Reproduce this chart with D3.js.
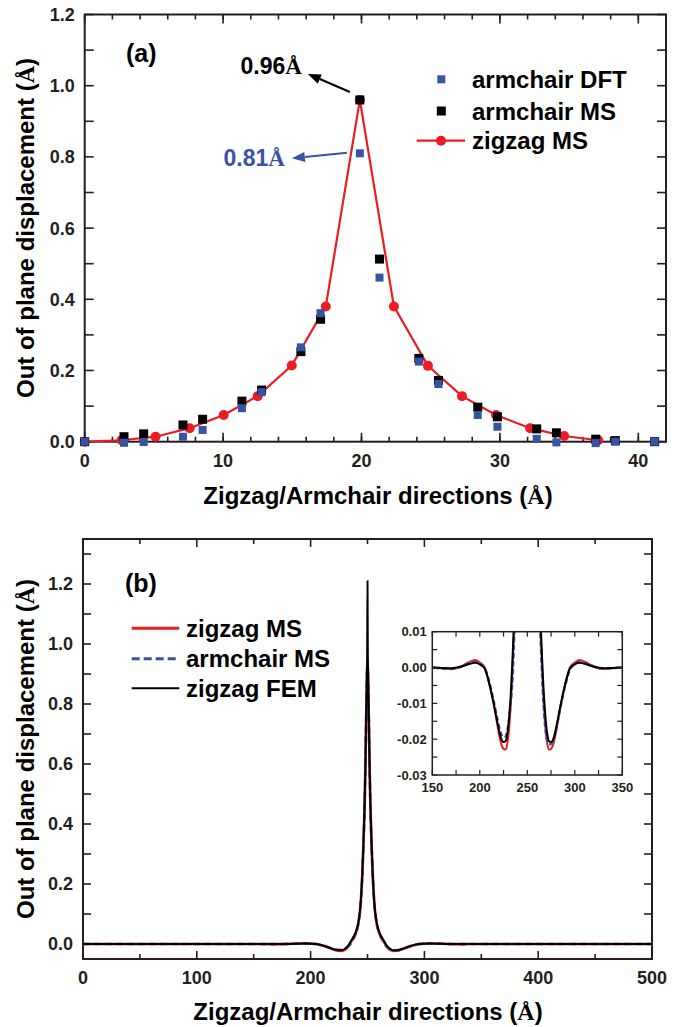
<!DOCTYPE html>
<html>
<head>
<meta charset="utf-8">
<script src="https://cdn.jsdelivr.net/npm/d3@7"></script>
<style>
  body { margin: 0; background: #fff; }
  svg { display: block; font-family: "Liberation Sans", Arial, Helvetica, sans-serif; font-weight: bold; }
</style>
</head>
<body>
<svg id="fig" width="680" height="1027"></svg>
<script>
// ---------- Panel (a): discrete displacement profiles ----------
const aArmX   = [0, 2.84, 4.26, 7.1, 8.52, 11.36, 12.78, 15.62, 17.04, 19.88, 21.3, 24.14, 25.56, 28.4, 29.82, 32.66, 34.08, 36.92, 38.34, 41.18];
const aArmMS  = [0, 0.014, 0.022, 0.047, 0.063, 0.114, 0.145, 0.253, 0.344, 0.96, 0.513, 0.234, 0.172, 0.097, 0.070, 0.036, 0.025, 0.007, 0.003, 0];
const aArmDFT = [0, -0.003, -0.001, 0.014, 0.033, 0.094, 0.139, 0.265, 0.361, 0.81, 0.461, 0.225, 0.162, 0.075, 0.042, 0.008, -0.002, -0.004, 0, 0];
const aZigX   = [0, 2.66, 5.12, 7.58, 10.04, 12.5, 14.96, 17.42, 19.88, 22.34, 24.8, 27.26, 29.72, 32.18, 34.64, 37.1];
const aZigMS  = [0, 0.004, 0.014, 0.038, 0.075, 0.128, 0.214, 0.38, 0.96, 0.38, 0.213, 0.128, 0.075, 0.038, 0.016, 0.004];
const aPeakMS = 0.96, aPeakDFT = 0.81, aPeakX = 19.88;

const aXTicks = [0, 10, 20, 30, 40];
const aYTicks = [0.0, 0.2, 0.4, 0.6, 0.8, 1.0, 1.2];

// ---------- Panel (b): continuous profiles ----------
const bX = [0, 50, 100, 150, 160, 170, 180, 188, 195, 200, 205, 210, 215, 219, 222, 225, 227, 229, 231, 233,
  234.5, 236, 238, 240, 242, 244, 245.5, 246.5, 247.5, 248.2, 248.8, 249.4, 249.75, 250,
  250.25, 250.6, 251.2, 251.8, 252.5, 253.5, 254.5, 256, 258, 260, 262, 264, 265.5, 267, 269, 271, 273, 275,
  278, 281, 285, 290, 295, 300, 305, 312, 320, 330, 340, 350, 400, 450, 500];
const bZigMS = [0, 0, 0, 0, -0.0002, -0.0004, 0.0003, 0.0014, 0.0021, 0.0014, 0.0001, -0.0045, -0.0108, -0.0168,
  -0.0208, -0.0227, -0.0229, -0.0212, -0.0165, -0.0085, 0.0, 0.010, 0.022, 0.040, 0.070, 0.135,
  0.24, 0.34, 0.47, 0.60, 0.75, 0.87, 0.92, 0.937,
  0.92, 0.87, 0.75, 0.60, 0.47, 0.34, 0.24, 0.135, 0.070, 0.040, 0.022, 0.010,
  0.0, -0.0085, -0.0165, -0.0212, -0.0229, -0.0227, -0.0208, -0.0168, -0.0108, -0.0045, 0.0001, 0.0014,
  0.0021, 0.0014, 0.0003, -0.0004, -0.0002, 0, 0, 0, 0];
const bArmMS = [0, 0, 0, 0, -0.0003, -0.0004, 0.0002, 0.0012, 0.0016, 0.0012, 0.0, -0.0040, -0.0098, -0.0150,
  -0.0182, -0.0195, -0.0193, -0.0175, -0.0140, -0.0085, -0.003, 0.007, 0.020, 0.038, 0.068, 0.132,
  0.235, 0.335, 0.465, 0.60, 0.75, 0.87, 0.92, 0.935,
  0.92, 0.87, 0.75, 0.60, 0.47, 0.34, 0.24, 0.135, 0.070, 0.040, 0.021, 0.008,
  -0.002, -0.010, -0.0170, -0.0205, -0.0215, -0.0213, -0.0198, -0.0165, -0.0110, -0.0050, -0.0005, 0.0010,
  0.0016, 0.0012, 0.0003, -0.0003, -0.0002, 0, 0, 0, 0];
const bZigFEM = [0, 0, 0, 0, -0.0001, -0.0002, 0.0002, 0.0009, 0.0013, 0.0009, -0.0002, -0.0045, -0.0105, -0.0160,
  -0.0195, -0.0208, -0.0206, -0.0185, -0.0135, -0.0055, 0.003, 0.013, 0.026, 0.043, 0.073, 0.137,
  0.24, 0.34, 0.47, 0.60, 0.75, 0.89, 0.99, 1.21,
  0.99, 0.89, 0.75, 0.60, 0.47, 0.34, 0.24, 0.137, 0.073, 0.043, 0.026, 0.013,
  0.003, -0.0055, -0.0135, -0.0185, -0.0206, -0.0208, -0.0195, -0.0160, -0.0105, -0.0045, -0.0002, 0.0009,
  0.0013, 0.0009, 0.0002, -0.0002, -0.0001, 0, 0, 0, 0];

const bXTicks = [0, 100, 200, 300, 400, 500];
const bYTicks = [0.0, 0.2, 0.4, 0.6, 0.8, 1.0, 1.2];
const insXTicks = [150, 200, 250, 300, 350];
const insYTicks = [-0.03, -0.02, -0.01, 0.00, 0.01];
const insYLabels = ["-0.03", "-0.02", "-0.01", "0.00", "0.01"];

const xTitle = "Zigzag/Armchair directions (";
const yTitle = "Out of plane displacement (";

// ---------- styling ----------
const RED = "#ec1c24", BLUE = "#3953a4", BLK = "#000", AX = "#231f20";
const svg = d3.select("#fig");

function box(g, x, y, o) {
  const [x0, x1] = x.range(), [y0, y1] = y.range();
  const line = (a, b, c, d, w) => g.append("line").attr("x1", a).attr("y1", b).attr("x2", c).attr("y2", d)
    .attr("stroke", AX).attr("stroke-width", w);
  o.xMinor.forEach(v => { const p = x(v); line(p, y0, p, y0 - o.xMinLen, o.tw); line(p, y1, p, y1 + o.xMinLen, o.tw); });
  o.xMajor.forEach(v => { const p = x(v); line(p, y0, p, y0 - o.xMajLen, o.tw); line(p, y1, p, y1 + o.xMajLen, o.tw); });
  o.yMinor.forEach(v => { const p = y(v); line(x0, p, x0 + o.yMinLen, p, o.tw); line(x1, p, x1 - o.yMinLen, p, o.tw); });
  o.yMajor.forEach(v => { const p = y(v); line(x0, p, x0 + o.yMajLen, p, o.tw); line(x1, p, x1 - o.yMajLen, p, o.tw); });
  g.append("rect").attr("x", x0).attr("y", y1).attr("width", x1 - x0).attr("height", y0 - y1)
    .attr("fill", "none").attr("stroke", AX).attr("stroke-width", o.bw);
  o.xMajor.forEach((v, i) => g.append("text").attr("x", x(v)).attr("y", y0 + o.xLabDy)
    .attr("text-anchor", "middle").attr("font-size", o.fs).attr("fill", "#231f20")
    .text(o.xLabels ? o.xLabels[i] : String(v)));
  o.yMajor.forEach((v, i) => g.append("text").attr("x", x0 - o.yLabDx).attr("y", y(v) + o.fs * 0.36)
    .attr("text-anchor", "end").attr("font-size", o.fs).attr("fill", "#231f20")
    .text(o.yLabels ? o.yLabels[i] : d3.format(".1f")(v)));
}

function titles(g, cx, by, ty, cy) {
  const t = g.append("text").attr("x", cx).attr("y", by).attr("text-anchor", "middle").attr("font-size", 24);
  t.append("tspan").text(xTitle);
  t.append("tspan").attr("font-family", "Liberation Serif, Times New Roman, serif").text("Å");
  t.append("tspan").text(")");
  const r = g.append("text").attr("transform", `translate(${ty},${cy}) rotate(-90)`)
    .attr("text-anchor", "middle").attr("font-size", 24);
  r.append("tspan").text(yTitle);
  r.append("tspan").attr("font-family", "Liberation Serif, Times New Roman, serif").text("Å");
  r.append("tspan").text(")");
}

function arrow(g, x1, y1, x2, y2, color) {
  const ang = Math.atan2(y2 - y1, x2 - x1), L = 13, W = 5;
  const bx = x2 - L * Math.cos(ang), by = y2 - L * Math.sin(ang);
  g.append("line").attr("x1", x1).attr("y1", y1).attr("x2", bx).attr("y2", by)
    .attr("stroke", color).attr("stroke-width", 2.2);
  const nx = -Math.sin(ang) * W, ny = Math.cos(ang) * W;
  g.append("path").attr("d", `M${x2},${y2}L${bx + nx},${by + ny}L${bx - nx},${by - ny}Z`).attr("fill", color);
}

// ================= Panel (a) =================
const ga = svg.append("g");
const xa = d3.scaleLinear().domain([0, 42]).range([84.7, 666]);
const ya = d3.scaleLinear().domain([0, 1.2]).range([441.7, 14.5]);

box(ga, xa, ya, {
  xMajor: aXTicks, xMinor: d3.range(0, 42, 2), yMajor: aYTicks, yMinor: d3.range(0.1, 1.2, 0.2),
  xMajLen: 9, xMinLen: 5, yMajLen: 9, yMinLen: 9, tw: 1.6, bw: 2, fs: 18, xLabDy: 25, yLabDx: 10
});
titles(ga, 378, 504, 34, 228);

// zigzag MS line with circles
const zig = aZigX.map((v, i) => [v, aZigMS[i]]);
ga.append("path").datum(zig).attr("fill", "none").attr("stroke", RED).attr("stroke-width", 2.2)
  .attr("d", d3.line().x(d => xa(d[0])).y(d => ya(d[1])));
ga.selectAll(".zc").data(zig).enter().append("circle")
  .attr("cx", d => xa(d[0])).attr("cy", d => ya(d[1])).attr("r", 5).attr("fill", RED);
// armchair MS squares
ga.selectAll(".ms").data(aArmX.map((v, i) => [v, aArmMS[i]])).enter().append("rect")
  .attr("x", d => xa(d[0]) - 4.5).attr("y", d => ya(d[1]) - 4.5).attr("width", 9).attr("height", 9).attr("fill", BLK);
// armchair DFT squares
ga.selectAll(".dft").data(aArmX.map((v, i) => [v, aArmDFT[i]])).enter().append("rect")
  .attr("x", d => xa(d[0]) - 4).attr("y", d => ya(d[1]) - 4).attr("width", 8).attr("height", 8).attr("fill", BLUE);

// peak annotations
const px = xa(aPeakX), pyMS = ya(aPeakMS), pyDFT = ya(aPeakDFT);
arrow(ga, px - 10, pyMS - 8, px - 52, pyMS - 26, BLK);
const t96 = ga.append("text").attr("x", px - 58).attr("y", pyMS - 26).attr("text-anchor", "end").attr("font-size", 23).attr("fill", BLK);
t96.append("tspan").text(aPeakMS.toFixed(2));
t96.append("tspan").attr("font-family", "Liberation Serif, Times New Roman, serif").text("Å");
arrow(ga, px - 13, pyDFT - 0.6, px - 68, pyDFT + 5, BLUE);
const t81 = ga.append("text").attr("x", px - 75).attr("y", pyDFT + 13).attr("text-anchor", "end").attr("font-size", 23).attr("fill", BLUE);
t81.append("tspan").text(aPeakDFT.toFixed(2));
t81.append("tspan").attr("font-family", "Liberation Serif, Times New Roman, serif").text("Å");

// panel label
ga.append("text").attr("x", 126).attr("y", 62).attr("font-size", 25).text("(a)");

// legend (a)
const la = ga.append("g");
la.append("rect").attr("x", 437.3).attr("y", 75.3).attr("width", 8).attr("height", 8).attr("fill", BLUE);
la.append("text").attr("x", 472).attr("y", 88).attr("font-size", 24).text("armchair DFT");
la.append("rect").attr("x", 436.8).attr("y", 106.5).attr("width", 9).attr("height", 9).attr("fill", BLK);
la.append("text").attr("x", 472).attr("y", 119.5).attr("font-size", 24).text("armchair MS");
la.append("line").attr("x1", 416.7).attr("x2", 465).attr("y1", 140.7).attr("y2", 140.7).attr("stroke", RED).attr("stroke-width", 2.2);
la.append("circle").attr("cx", 441).attr("cy", 140.7).attr("r", 5).attr("fill", RED);
la.append("text").attr("x", 472).attr("y", 149).attr("font-size", 24).text("zigzag MS");

// ================= Panel (b) =================
const gb = svg.append("g");
const xb = d3.scaleLinear().domain([0, 500]).range([83, 652]);
const yb = d3.scaleLinear().domain([-0.05, 1.35]).range([959, 539]);

box(gb, xb, yb, {
  xMajor: bXTicks, xMinor: d3.range(50, 500, 100), yMajor: bYTicks, yMinor: d3.range(0.1, 1.35, 0.2),
  xMajLen: 8, xMinLen: 5, yMajLen: 8, yMinLen: 8, tw: 1.6, bw: 2, fs: 18, xLabDy: 25, yLabDx: 10
});
titles(gb, 368, 1020, 34, 749);

const series = [
  { y: bZigMS, color: RED, w: 2.6, dash: null },
  { y: bArmMS, color: BLUE, w: 2.6, dash: "7,4" },
  { y: bZigFEM, color: BLK, w: 2, dash: null }
];
const lineB = d3.line().x(d => xb(d[0])).y(d => yb(d[1])).curve(d3.curveMonotoneX);
series.forEach(s => {
  gb.append("path").datum(bX.map((v, i) => [v, s.y[i]])).attr("fill", "none")
    .attr("stroke", s.color).attr("stroke-width", s.w).attr("stroke-dasharray", s.dash).attr("d", lineB);
});

gb.append("text").attr("x", 125).attr("y", 592).attr("font-size", 25).text("(b)");

// legend (b)
const lb = gb.append("g");
[["zigzag MS", RED, 3, null, 628.3], ["armchair MS", BLUE, 3, "8,4", 658.7], ["zigzag FEM", BLK, 2, null, 688.3]]
  .forEach(([lab, c, w, dash, yy]) => {
    lb.append("line").attr("x1", 131.7).attr("x2", 179.3).attr("y1", yy).attr("y2", yy)
      .attr("stroke", c).attr("stroke-width", w).attr("stroke-dasharray", dash);
    lb.append("text").attr("x", 186).attr("y", yy + 8.5).attr("font-size", 24).text(lab);
  });

// ---------- inset ----------
const gi = gb.append("g");
const xi = d3.scaleLinear().domain([150, 350]).range([432.3, 622.3]);
const yi = d3.scaleLinear().domain([-0.03, 0.01]).range([775, 631.7]);
gi.append("rect").attr("x", 432.3).attr("y", 631.7).attr("width", 190).attr("height", 143.3).attr("fill", "#fff");
svg.append("defs").append("clipPath").attr("id", "insClip").append("rect")
  .attr("x", 432.3).attr("y", 631.7).attr("width", 190).attr("height", 143.3);
const lineI = d3.line().x(d => xi(d[0])).y(d => yi(d[1])).curve(d3.curveMonotoneX);
const gic = gi.append("g").attr("clip-path", "url(#insClip)");
[
  { y: bZigMS, color: RED, w: 2, dash: null },
  { y: bArmMS, color: BLUE, w: 2.4, dash: "5,3" },
  { y: bZigFEM, color: BLK, w: 2, dash: null }
].forEach(s => {
  gic.append("path").datum(bX.map((v, i) => [v, s.y[i]])).attr("fill", "none")
    .attr("stroke", s.color).attr("stroke-width", s.w).attr("stroke-dasharray", s.dash).attr("d", lineI);
});
box(gi, xi, yi, {
  xMajor: insXTicks, xMinor: d3.range(175, 350, 50), yMajor: insYTicks, yMinor: [-0.025, -0.015, -0.005, 0.005],
  yLabels: insYLabels,
  xMajLen: 5, xMinLen: 5, yMajLen: 5, yMinLen: 5, tw: 1.2, bw: 1.5, fs: 13, xLabDy: 17, yLabDx: 5.6
});
</script>
</body>
</html>
